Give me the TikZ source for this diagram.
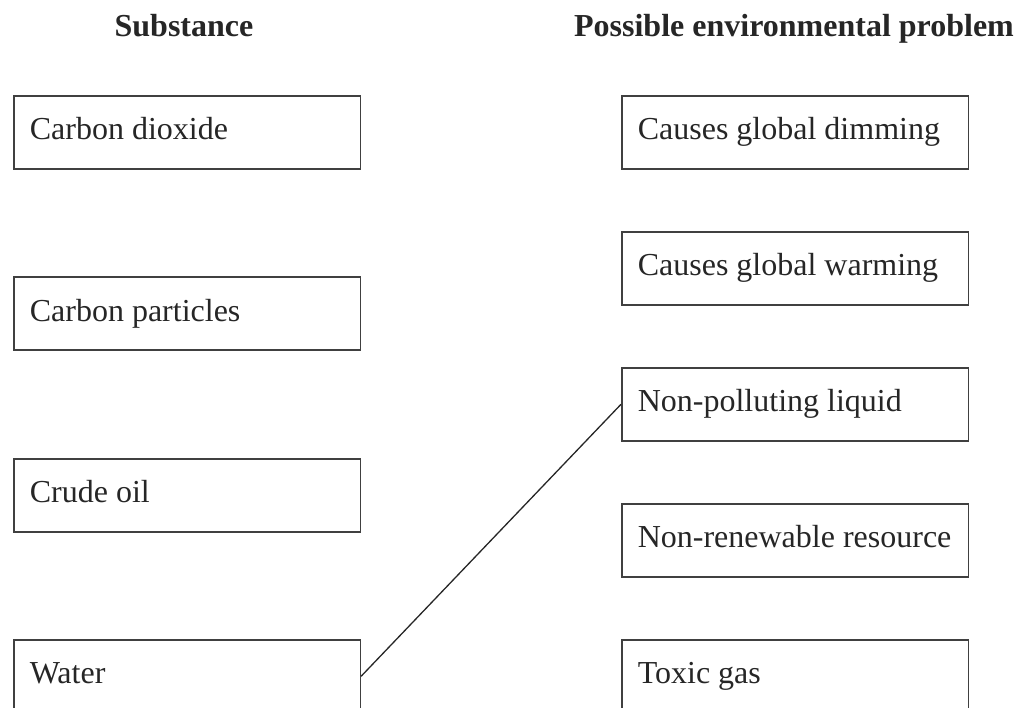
\documentclass[tikz,border=0pt]{standalone}
\usepackage{fontspec}
\setmainfont{Liberation Serif}
\begin{document}
\begin{tikzpicture}[x=1pt,y=-1pt,
  itembox/.style={draw=black!75, line width=1.6pt, minimum height=73pt,
    text width=314.5pt, inner xsep=16pt, inner ysep=0pt, align=flush left,
    text height=22pt, text depth=7pt, anchor=north west,
    font=\fontsize{32}{38}\selectfont, text=black!85},
  heading/.style={anchor=base, font=\fontsize{32}{38}\selectfont\bfseries, text=black!85},
  link/.style={draw=black!85, line width=1.3pt}]
\useasboundingbox (0,0) rectangle (1018,708);
\clip (0,0) rectangle (1018,708);
\node[heading] (h1) at (184,37) {Substance};
\node[heading] (h2) at (794,37) {Possible environmental problem};
\node[itembox] (co2) at (13,95) {Carbon dioxide};
\node[itembox] (cp) at (13,276.5) {Carbon particles};
\node[itembox] (oil) at (13,458) {Crude oil};
\node[itembox] (water) at (13,639) {Water};
\node[itembox] (dim) at (621,95) {Causes global dimming};
\node[itembox] (warm) at (621,231) {Causes global warming};
\node[itembox] (npl) at (621,367) {Non-polluting liquid};
\node[itembox] (nrr) at (621,503) {Non-renewable resource};
\node[itembox] (tox) at (621,639) {Toxic gas};
\draw[link] (water.east) -- (npl.west);
\end{tikzpicture}
\end{document}
